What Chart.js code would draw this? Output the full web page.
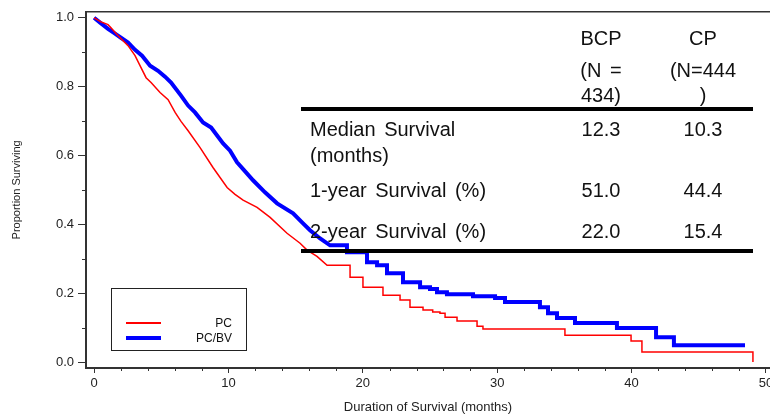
<!DOCTYPE html>
<html>
<head>
<meta charset="utf-8">
<script src="https://cdn.jsdelivr.net/npm/chart.js@4.4.1/dist/chart.umd.min.js"></script>
<style>
  html, body { margin: 0; padding: 0; background: #fff; }
  #wrap { position: relative; width: 770px; height: 416px; overflow: hidden; }
  #chart { position: absolute; left: 0; top: 0; }
  .cell {
    position: absolute;
    font-family: "Liberation Sans", Arial, sans-serif;
    font-size: 20px;
    line-height: 24px;
    color: #111;
    white-space: nowrap;
    word-spacing: 3px;
  }
  .cell.center { transform: translateX(-50%); }
  .rule { position: absolute; left: 301px; width: 452px; height: 4px; background: #000; }
  #legend { position: absolute; left: 111px; top: 288px; width: 134px; height: 61px; border: 1px solid #222; }
  .legend-line { position: absolute; left: 14px; width: 35px; }
  .legend-label {
    position: absolute;
    right: 14px;
    font-family: "Liberation Sans", Arial, sans-serif;
    font-size: 12px;
    line-height: 14px;
    color: #111;
  }
</style>
</head>
<body>
<div id="wrap">
  <canvas id="chart" width="770" height="416"></canvas>
  <div id="table"></div>
  <div id="legend"></div>
</div>
<script>
// Kaplan-Meier curves: step month and survival after that step
const pcMonths = [0, 0.52, 1.04, 1.26, 1.79, 2.53, 3.05, 3.42, 3.87, 4.24, 4.91, 5.51, 6.03, 6.47, 7.0,
  7.89, 8.85, 9.9, 10.49, 11.09, 12.13, 13.1, 14.36, 15.33, 15.85, 16.59, 17.34, 19.05, 20.01, 21.5,
  22.77, 23.51, 24.48, 25.2, 25.74, 26.12, 27.01, 28.5, 28.94, 35.04, 39.96, 40.77, 49.03];
const pcSurvival = [1.0, 0.988, 0.98, 0.971, 0.948, 0.919, 0.89, 0.861, 0.826, 0.812, 0.783, 0.762, 0.725, 0.699, 0.672,
  0.623, 0.565, 0.507, 0.487, 0.47, 0.449, 0.42, 0.374, 0.345, 0.325, 0.307, 0.281, 0.246, 0.217, 0.194,
  0.18, 0.159, 0.151, 0.145, 0.142, 0.13, 0.119, 0.104, 0.096, 0.078, 0.061, 0.029, 0.0];

const pcbvMonths = [0, 0.45, 1.04, 1.56, 2.0, 2.53, 3.05, 3.57, 4.17, 4.76, 5.28, 5.73, 6.47, 7.0, 7.51,
  8.11, 8.71, 9.6, 10.12, 10.64, 11.24, 11.83, 12.72, 13.62, 14.81, 15.55, 16.07, 16.82, 17.56, 18.82,
  20.31, 21.06, 21.8, 22.99, 24.26, 25.0, 25.52, 26.26, 28.2, 29.84, 30.58, 33.18, 33.78, 34.45, 35.79,
  38.91, 41.82, 43.15, 48.44];
const pcbvSurvival = [1.0, 0.986, 0.968, 0.954, 0.942, 0.928, 0.907, 0.89, 0.861, 0.846, 0.829, 0.812, 0.774, 0.745, 0.725,
  0.696, 0.681, 0.635, 0.614, 0.58, 0.554, 0.528, 0.493, 0.461, 0.432, 0.403, 0.383, 0.359, 0.339, 0.319,
  0.29, 0.281, 0.258, 0.232, 0.217, 0.212, 0.203, 0.197, 0.191, 0.186, 0.174, 0.159, 0.142, 0.128, 0.113,
  0.099, 0.072, 0.049, 0.049];

const monthTicks = [0, 10, 20, 30, 40, 50];
const minorMonthTicks = [2, 4, 6, 8, 12, 14, 16, 18, 22, 24, 26, 28, 32, 34, 36, 38, 42, 44, 46, 48];
const survivalTicks = [0, 0.2, 0.4, 0.6, 0.8, 1.0];
const minorSurvivalTicks = [0.1, 0.3, 0.5, 0.7, 0.9];

const legendLabels = ['PC', 'PC/BV'];
const seriesColors = ['#ff0000', '#0000ff'];

// summary table
const tableHeaders = [['BCP', '(N =', '434)'], ['CP', '(N=444', ')']];
const tableRowLabels = [['Median Survival', '(months)'], ['1-year Survival (%)'], ['2-year Survival (%)']];
const bcpValues = ['12.3', '51.0', '22.0'];
const cpValues = ['10.3', '44.4', '15.4'];

// layout of the table (pixel centres)
const headerLineY = [38, 70, 95];
const rowLineY = [[129, 155], [190], [231]];
const columnX = [601, 703];
const labelX = 310;
const rulesY = [107, 249];

const axisColor = '#333';
const fontFamily = '"Liberation Sans", Arial, sans-serif';

// events are dense early on, so the curve there is drawn point to point;
// later every step is drawn flat first and then dropped
const flatStepsFrom = 18;
const toStepPoints = (months, survival) => {
  const points = [];
  months.forEach((m, i) => {
    if (i > 0 && m >= flatStepsFrom) points.push({ x: m, y: survival[i - 1] });
    points.push({ x: m, y: survival[i] });
  });
  return points;
};

const framePlugin = {
  id: 'frameAndMinorTicks',
  afterDraw(chart) {
    const { ctx, chartArea, scales } = chart;
    ctx.save();
    ctx.strokeStyle = axisColor;
    ctx.lineWidth = 1.5;
    ctx.beginPath();
    ctx.moveTo(chartArea.left, chartArea.top);
    ctx.lineTo(chartArea.right, chartArea.top);
    ctx.stroke();

    ctx.lineWidth = 1;
    ctx.beginPath();
    minorMonthTicks.forEach((v) => {
      const px = Math.round(scales.x.getPixelForValue(v)) + 0.5;
      ctx.moveTo(px, chartArea.bottom);
      ctx.lineTo(px, chartArea.bottom + 3);
    });
    minorSurvivalTicks.forEach((v) => {
      const py = Math.round(scales.y.getPixelForValue(v)) + 0.5;
      ctx.moveTo(chartArea.left, py);
      ctx.lineTo(chartArea.left - 4, py);
    });
    ctx.stroke();
    ctx.restore();
  },
};

new Chart(document.getElementById('chart'), {
  type: 'line',
  data: {
    datasets: [
      {
        label: legendLabels[0],
        data: toStepPoints(pcMonths, pcSurvival),
        borderColor: seriesColors[0],
        borderWidth: 1.5,
        pointRadius: 0,
        tension: 0,
        fill: false,
      },
      {
        label: legendLabels[1],
        data: toStepPoints(pcbvMonths, pcbvSurvival),
        borderColor: seriesColors[1],
        borderWidth: 4,
        pointRadius: 0,
        tension: 0,
        fill: false,
      },
    ],
  },
  options: {
    responsive: false,
    animation: false,
    layout: { padding: { left: 0, right: 0, top: 11, bottom: 0 } },
    plugins: {
      legend: { display: false },
      tooltip: { enabled: false },
    },
    scales: {
      x: {
        type: 'linear',
        min: -0.6,
        max: 50.3,
        afterBuildTicks: (scale) => { scale.ticks = monthTicks.map((value) => ({ value })); },
        afterFit: (scale) => {
          scale.height = 48;
          scale.paddingLeft = 0;
          scale.paddingRight = 0;
        },
        ticks: {
          autoSkip: false,
          maxRotation: 0,
          padding: 3,
          color: '#222',
          font: { family: fontFamily, size: 13 },
        },
        grid: { drawOnChartArea: false, drawTicks: true, tickLength: 5, tickColor: axisColor },
        border: { display: true, color: axisColor, width: 2 },
        title: {
          display: true,
          text: 'Duration of Survival (months)',
          color: '#222',
          font: { family: fontFamily, size: 13 },
          padding: { top: 0, bottom: 1 },
        },
      },
      y: {
        type: 'linear',
        min: -0.0174,
        max: 1.0174,
        afterBuildTicks: (scale) => { scale.ticks = survivalTicks.map((value) => ({ value })); },
        afterFit: (scale) => { scale.width = 86; },
        ticks: {
          autoSkip: false,
          padding: 4,
          color: '#222',
          font: { family: fontFamily, size: 13 },
          callback: (value) => Number(value).toFixed(1),
        },
        grid: { drawOnChartArea: false, drawTicks: true, tickLength: 8, tickColor: axisColor },
        border: { display: true, color: axisColor, width: 2 },
        title: {
          display: true,
          text: 'Proportion Surviving',
          color: '#222',
          font: { family: fontFamily, size: 11 },
          padding: { top: 10, bottom: 0 },
        },
      },
    },
  },
  plugins: [framePlugin],
});

// table overlay
const table = document.getElementById('table');
const addCell = (text, x, cy, centered) => {
  const cell = document.createElement('div');
  cell.className = centered ? 'cell center' : 'cell';
  cell.textContent = text;
  cell.style.left = `${x}px`;
  cell.style.top = `${cy - 12}px`;
  table.appendChild(cell);
};

tableHeaders.forEach((lines, col) => {
  lines.forEach((line, i) => addCell(line, columnX[col], headerLineY[i], true));
});
tableRowLabels.forEach((lines, row) => {
  lines.forEach((line, i) => addCell(line, labelX, rowLineY[row][i], false));
  addCell(bcpValues[row], columnX[0], rowLineY[row][0], true);
  addCell(cpValues[row], columnX[1], rowLineY[row][0], true);
});
rulesY.forEach((y) => {
  const rule = document.createElement('div');
  rule.className = 'rule';
  rule.style.top = `${y}px`;
  table.appendChild(rule);
});

// legend overlay
const legend = document.getElementById('legend');
const legendRowY = [34, 49];
const legendWidths = [1.5, 4];
legendLabels.forEach((label, i) => {
  const line = document.createElement('div');
  line.className = 'legend-line';
  line.style.top = `${legendRowY[i] - legendWidths[i] / 2}px`;
  line.style.height = `${legendWidths[i]}px`;
  line.style.background = seriesColors[i];
  legend.appendChild(line);

  const text = document.createElement('div');
  text.className = 'legend-label';
  text.textContent = label;
  text.style.top = `${legendRowY[i] - 7}px`;
  legend.appendChild(text);
});
</script>
</body>
</html>
